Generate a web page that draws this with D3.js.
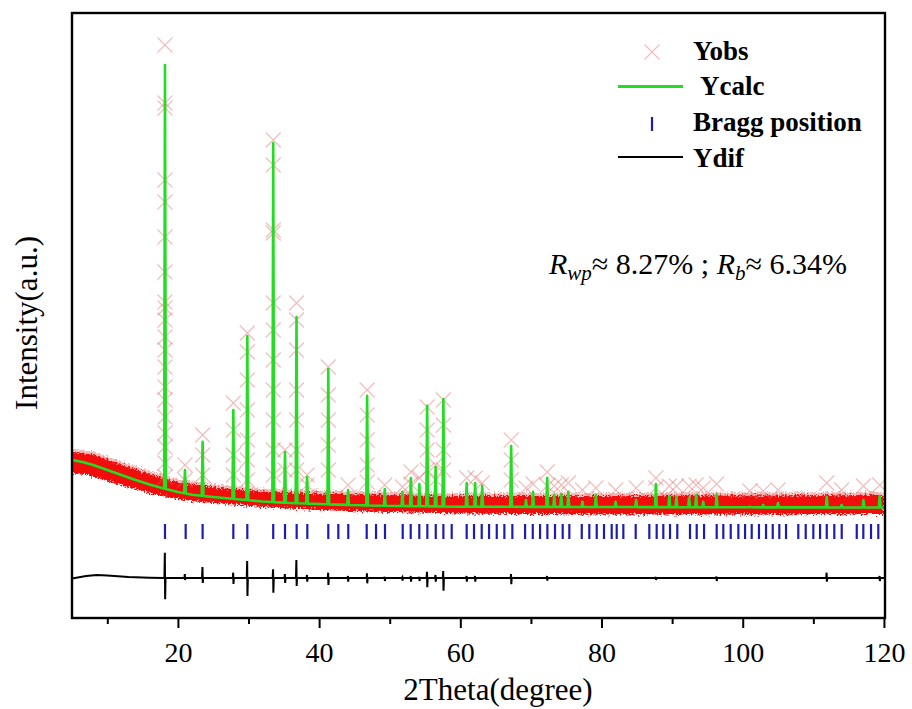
<!DOCTYPE html>
<html>
<head>
<meta charset="utf-8">
<script src="https://cdn.jsdelivr.net/npm/d3@7/dist/d3.min.js"></script>
<style>
  html, body { margin: 0; padding: 0; background: #fff; }
  svg { display: block; }
  svg text { font-family: "Liberation Serif", "Tinos", "Times New Roman", Times, "DejaVu Serif", serif !important; fill: #000; }
</style>
</head>
<body>
<svg id="chart" width="912" height="709"></svg>
<script>
// ---- Rietveld refinement data (2θ in degrees, intensity in counts) ----

// Axis ticks
const majorTicks = [20, 40, 60, 80, 100, 120];
const minorTicks = [10, 30, 50, 70, 90, 110];

// Refined background (calculated profile between reflections)
const bgTheta = [5, 6.5, 8, 10, 12, 14, 16, 18, 20, 22, 25, 28, 32, 36, 41, 46, 51, 60, 80, 100, 120];
const bgCalc  = [980, 960, 930, 880, 830, 780, 735, 695, 660, 633, 610, 590, 565, 550, 537, 527, 520, 513, 510, 507, 505];

// Reflections: position and calculated peak top
const peakTheta = [18.17, 21.0, 23.5, 27.85, 29.83, 33.5, 35.17, 36.8, 38.3, 41.3, 44.1, 46.8, 49.3, 51.8, 53.0,
                   54.2, 55.3, 56.5, 57.6, 60.9, 62.1, 63.1, 67.2, 69.3, 70.3, 72.3, 73.3, 74.3, 75.3, 77.3,
                   79.2, 82.0, 84.9, 87.7, 89.6, 90.6, 92.4, 93.4, 94.4, 96.3, 101.0, 102.9, 105.0, 111.9, 114.0,
                   117.1, 119.4];
const peakCalc  = [4930, 880, 1163, 1480, 2220, 4150, 1060, 2410, 810, 1890, 680, 1623, 690, 663, 800,
                   740, 1523, 910, 1590, 750, 750, 723, 1120, 580, 663, 803, 630, 637, 663, 563,
                   630, 563, 580, 740, 620, 613, 603, 630, 563, 640, 513, 530, 550, 613, 530,
                   580, 620];

// Observed counts recorded across each reflection
const peakObs = [
  [5130, 4550, 4500, 3780, 3560, 3210, 2860, 2560, 2500, 2380, 2210, 2080, 1910, 1710, 1580, 1410, 1250, 1110, 950, 810],
  [930, 780], [1230, 1030, 830], [1550, 1280, 1030, 830],
  [2250, 2060, 1780, 1480, 1180, 980, 780],
  [4180, 3930, 3280, 3250, 2550, 2280, 1980, 1680, 1380, 1080, 830],
  [1080, 880],
  [2550, 2380, 2080, 1680, 1380, 1080, 880],
  [830, 730], [1910, 1630, 1380, 1130, 880], [730], [1680, 1430, 1180, 930, 760], [730], [710], [860, 740],
  [800], [1510, 1280, 1080, 880], [930, 780], [1580, 1330, 1080, 880], [800], [800], [750],
  [1180, 980, 780], [700], [740], [860, 720], [720], [730], [750], [680],
  [700], [680], [700], [800, 700], [720], [720], [720], [730], [700], [740], [670], [670], [680], [750], [680],
  [720], [730]
];

// Spread of the observed counts along the background
const bandTheta = [5, 8, 12, 17, 22, 27, 32, 40, 50, 60, 80, 100, 120];
const bandHigh  = [1060, 1030, 935, 815, 735, 695, 665, 645, 630, 620, 620, 625, 630];
const bandLow   = [850, 810, 730, 630, 570, 540, 510, 480, 460, 445, 435, 435, 440];

// Bragg reflection positions
const braggTheta = [18.17, 21.1, 23.5, 27.85, 29.83, 33.5, 35.17, 36.82, 38.33, 41.3, 42.72, 44.13, 46.74, 48.06,
  49.33, 51.84, 52.97, 54.19, 55.33, 56.52, 57.6, 58.78, 60.9, 61.94, 63.03, 64.07, 65.16, 66.24, 67.37,
  69.17, 70.26, 71.29, 72.33, 73.41, 74.5, 75.44, 77.2, 78.27, 79.32, 80.35, 81.44, 82.15, 83.09, 84.84,
  86.77, 87.81, 88.75, 89.7, 90.73, 92.53, 93.48, 94.52, 96.31, 97.25, 98.3, 99.38, 100.33, 101.27, 102.3,
  103.3, 104.25, 105.18, 106.13, 107.87, 108.92, 110.0, 110.95, 111.9, 112.97, 114.02, 116.15, 117.08,
  118.17, 119.2];

// Difference curve (Yobs - Ycalc): slow drift and residuals at reflections
const difBaseTheta = [5, 7, 8.5, 10, 13, 16, 18, 120];
const difBase      = [-5, 20, 30, 25, 10, 3, 0, 0];
const difTheta = [18.17, 21.0, 23.5, 27.85, 29.83, 33.5, 35.17, 36.8, 38.3, 41.3, 44.1, 46.8, 49.3, 51.8, 53.0,
                  54.2, 55.3, 56.5, 57.6, 60.9, 62.1, 67.2, 72.3, 87.7, 96.3, 111.9, 119.4];
const difUp    = [253, 40, 110, 53, 170, 87, 40, 180, 30, 53, 20, 47, 13, 7, 20,
                  13, 63, 30, 70, 20, 20, 40, 20, 10, 15, 53, 20];
const difDown  = [-213, -20, -50, -60, -180, -147, -50, -80, -37, -70, -37, -53, -30, -27, -37,
                  -30, -93, -37, -127, -37, -37, -63, -27, -20, -30, -37, -30];

// ---- layout ----
const FONT = "'Liberation Serif', Tinos, 'Times New Roman', Times, 'DejaVu Serif', serif";
const svg = d3.select("#chart");
const plot = { left: 72, right: 885, top: 13, bottom: 618 };

const x = d3.scaleLinear().domain([5, 120.15]).range([plot.left, plot.right]);
const y = d3.scaleLinear().domain([-600, 5450]).range([plot.bottom, plot.top]);

const difOffset = -200;            // baseline of the difference curve
const braggSpan = [190, 340];      // vertical extent of Bragg markers (counts)
const peakHalf = 0.12;             // half base width of a drawn reflection (deg)

const bgAt = d3.scaleLinear().domain(bgTheta).range(bgCalc);
const difBaseAt = d3.scaleLinear().domain(difBaseTheta).range(difBase);

const defs = svg.append("defs");
defs.append("clipPath").attr("id", "plotClip").append("rect")
  .attr("x", plot.left).attr("y", plot.top)
  .attr("width", plot.right - plot.left).attr("height", plot.bottom - plot.top);
const rough = defs.append("filter").attr("id", "rough")
  .attr("x", "-5%").attr("y", "-50%").attr("width", "110%").attr("height", "200%");
rough.append("feTurbulence").attr("type", "fractalNoise").attr("baseFrequency", "0.55")
  .attr("numOctaves", 2).attr("seed", 4).attr("result", "n");
rough.append("feDisplacementMap").attr("in", "SourceGraphic").attr("in2", "n")
  .attr("scale", 8).attr("xChannelSelector", "R").attr("yChannelSelector", "G");

const g = svg.append("g").attr("clip-path", "url(#plotClip)");

// Observed counts: dense band along the background
const bandData = bandTheta.map((t, i) => ({ t, hi: bandHigh[i], lo: bandLow[i] }));
const area = d3.area().x(d => x(d.t)).y0(d => y(d.lo)).y1(d => y(d.hi)).curve(d3.curveMonotoneX);
g.append("path").datum(bandData).attr("d", area)
  .attr("fill", "#f07070").attr("opacity", 0.5).attr("filter", "url(#rough)")
  .attr("transform", "translate(0,-3)");
g.append("path").datum(bandData).attr("d", area)
  .attr("fill", "#f21010").attr("filter", "url(#rough)");

// Observed counts across reflections (× markers)
const cross = "M-7.5,-7.5L7.5,7.5M-7.5,7.5L7.5,-7.5";
const obsPts = [];
peakTheta.forEach((t, i) => peakObs[i].forEach(v => obsPts.push({ t, v })));
g.append("g").selectAll("path").data(obsPts).join("path")
  .attr("d", cross)
  .attr("transform", d => `translate(${x(d.t)},${y(d.v)})`)
  .attr("fill", "none").attr("stroke", "#e06a6a").attr("stroke-opacity", 0.45).attr("stroke-width", 1.1);

// Calculated profile
const calcPts = bgTheta.map((t, i) => ({ t, v: bgCalc[i] }));
peakTheta.forEach((t, i) => {
  calcPts.push({ t: t - peakHalf, v: bgAt(t - peakHalf) });
  calcPts.push({ t, v: peakCalc[i] });
  calcPts.push({ t: t + peakHalf, v: bgAt(t + peakHalf) });
});
calcPts.sort((a, b) => a.t - b.t);
const line = d3.line().x(d => x(d.t)).y(d => y(d.v));
g.append("path").datum(calcPts).attr("d", line)
  .attr("fill", "none").attr("stroke", "#22dd22").attr("stroke-width", 2.6)
  .attr("stroke-linejoin", "round");

// Bragg positions
g.append("g").selectAll("line").data(braggTheta).join("line")
  .attr("x1", d => x(d)).attr("x2", d => x(d))
  .attr("y1", y(braggSpan[1])).attr("y2", y(braggSpan[0]))
  .attr("stroke", "#1c1cb4").attr("stroke-width", 2.2);

// Difference curve
const difPts = difBaseTheta.map((t, i) => ({ t, v: difBase[i] }));
difTheta.forEach((t, i) => {
  const b = difBaseAt(t);
  difPts.push({ t: t - 0.08, v: b });
  difPts.push({ t: t - 0.02, v: difUp[i] });
  difPts.push({ t: t + 0.02, v: difDown[i] });
  difPts.push({ t: t + 0.08, v: b });
});
difPts.sort((a, b) => a.t - b.t);
g.append("path").datum(difPts).attr("d", d3.line().x(d => x(d.t)).y(d => y(d.v + difOffset)))
  .attr("fill", "none").attr("stroke", "#000").attr("stroke-width", 2);

// Frame
svg.append("rect")
  .attr("x", plot.left).attr("y", plot.top)
  .attr("width", plot.right - plot.left).attr("height", plot.bottom - plot.top)
  .attr("fill", "none").attr("stroke", "#000").attr("stroke-width", 2.4);

// Bottom axis
const axMajor = svg.append("g").attr("transform", `translate(0,${plot.bottom})`)
  .call(d3.axisBottom(x).tickValues(majorTicks).tickSize(10).tickPadding(14).tickFormat(d3.format("d")));
const axMinor = svg.append("g").attr("transform", `translate(0,${plot.bottom})`)
  .call(d3.axisBottom(x).tickValues(minorTicks).tickSize(6).tickFormat(""));
[axMajor, axMinor].forEach(a => {
  a.attr("font-family", FONT);
  a.select(".domain").remove();
  a.selectAll("line").attr("stroke", "#000").attr("stroke-width", 2);
});
axMajor.selectAll("text").attr("font-family", FONT).attr("font-size", 28).attr("fill", "#000");

// Axis titles
svg.append("text").attr("x", 498).attr("y", 700).attr("text-anchor", "middle")
  .attr("font-family", FONT).attr("font-size", 31).text("2Theta(degree)");
svg.append("text").attr("transform", "translate(37,323) rotate(-90)").attr("text-anchor", "middle")
  .attr("font-family", FONT).attr("font-size", 31).text("Intensity(a.u.)");

// Legend
const lg = svg.append("g");
lg.append("path").attr("d", cross).attr("transform", "translate(652,52)")
  .attr("fill", "none").attr("stroke", "#e06a6a").attr("stroke-opacity", 0.45).attr("stroke-width", 1.1);
lg.append("line").attr("x1", 618).attr("x2", 683).attr("y1", 86.5).attr("y2", 86.5)
  .attr("stroke", "#22dd22").attr("stroke-width", 3);
lg.append("line").attr("x1", 652).attr("x2", 652).attr("y1", 117).attr("y2", 131)
  .attr("stroke", "#1c1cb4").attr("stroke-width", 2.2);
lg.append("line").attr("x1", 618).attr("x2", 683).attr("y1", 157).attr("y2", 157)
  .attr("stroke", "#000").attr("stroke-width", 2);
const legendText = [["Yobs", 693, 60], ["Ycalc", 700, 95], ["Bragg position", 693, 131], ["Ydif", 693, 167]];
lg.selectAll("text.leg").data(legendText).join("text").attr("class", "leg")
  .attr("x", d => d[1]).attr("y", d => d[2])
  .attr("font-family", FONT).attr("font-size", 27).attr("font-weight", "bold").text(d => d[0]);

// Refinement agreement factors
const rt = svg.append("text").attr("x", 549).attr("y", 274)
  .attr("font-family", FONT).attr("font-size", 30);
rt.append("tspan").attr("font-style", "italic").text("R");
rt.append("tspan").attr("font-style", "italic").attr("font-size", 21).attr("dy", 6).text("wp");
rt.append("tspan").attr("dy", -6).text("≈ 8.27% ; ");
rt.append("tspan").attr("font-style", "italic").text("R");
rt.append("tspan").attr("font-style", "italic").attr("font-size", 21).attr("dy", 6).text("b");
rt.append("tspan").attr("dy", -6).text("≈ 6.34%");
</script>
</body>
</html>
